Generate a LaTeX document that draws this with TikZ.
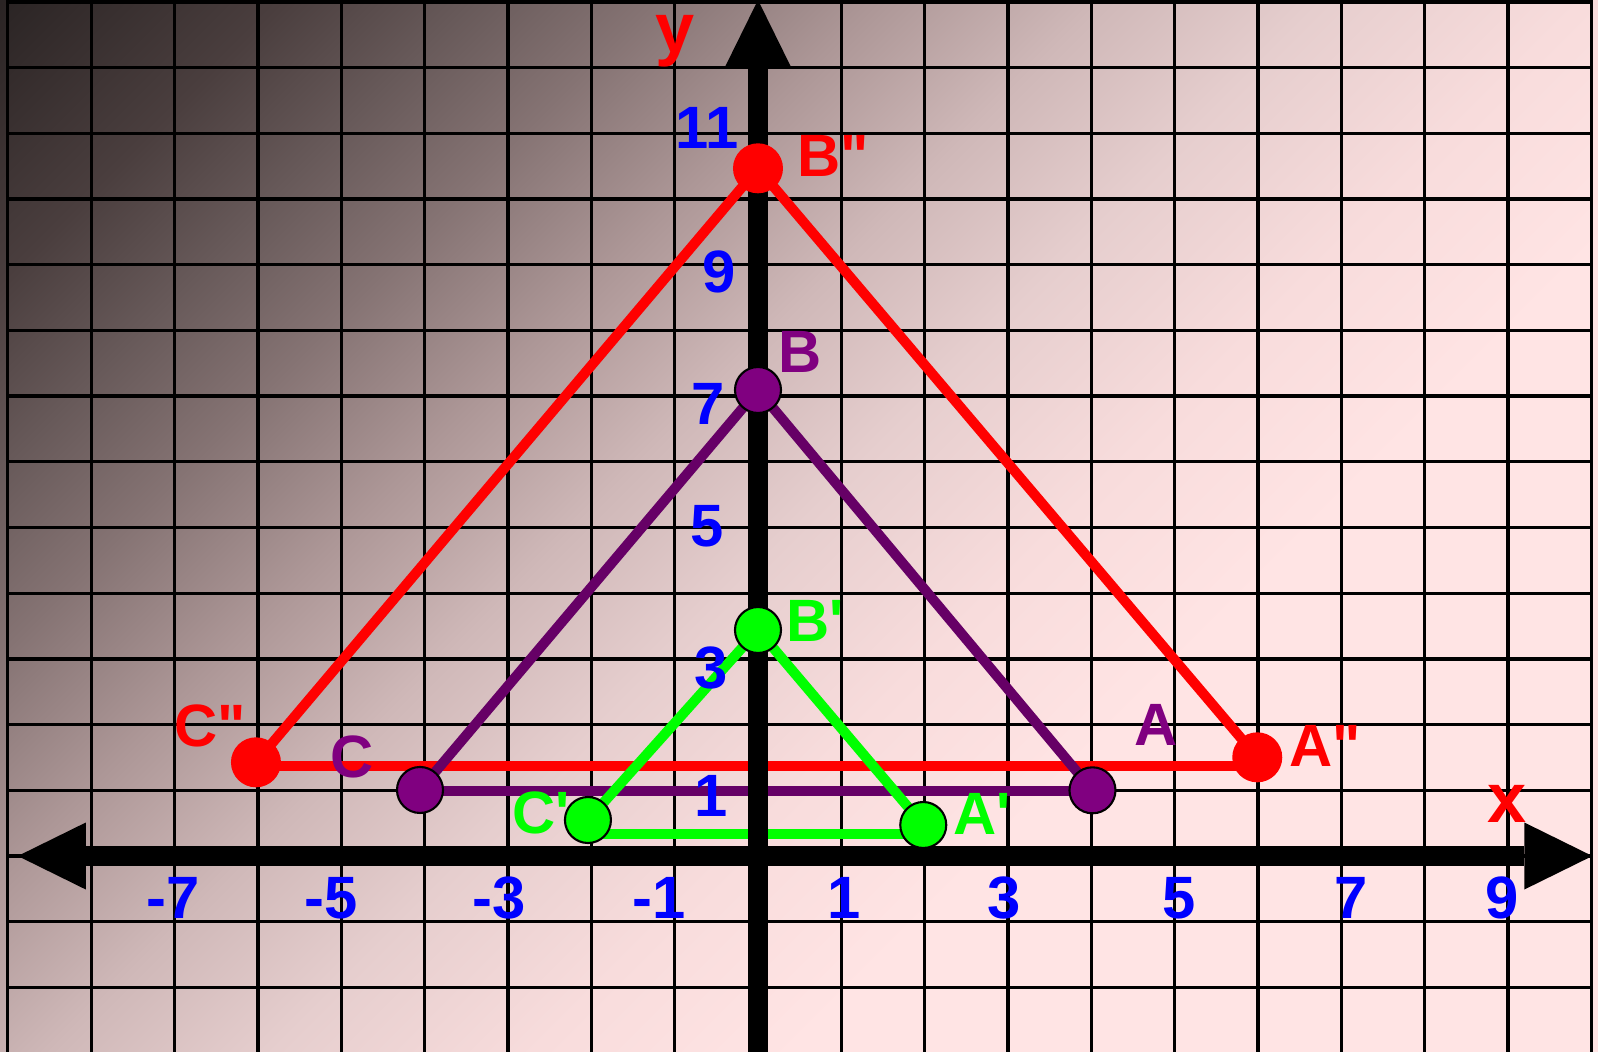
\documentclass[tikz,border=0pt]{standalone}
\usepackage{fontspec}
\setmainfont{Liberation Sans}
\usetikzlibrary{arrows.meta}
\definecolor{bgA}{HTML}{201B1B}
\definecolor{bgB}{HTML}{282222}
\definecolor{bgC}{HTML}{4A3E3E}
\definecolor{bgD}{HTML}{675959}
\definecolor{bgE}{HTML}{857373}
\definecolor{bgF}{HTML}{AD9797}
\definecolor{bgG}{HTML}{CFB8B8}
\definecolor{bgH}{HTML}{E6CECE}
\definecolor{bgI}{HTML}{F8DCDC}
\definecolor{bgJ}{HTML}{FFE4E4}
\definecolor{plum}{HTML}{800080}
\definecolor{plumline}{HTML}{660066}
\definecolor{lime}{HTML}{00FF00}
\pgfdeclarehorizontalshading{bgshade}{100bp}{color(0bp)=(bgA); color(14bp)=(bgB); color(22bp)=(bgC); color(27bp)=(bgD); color(32bp)=(bgE); color(38bp)=(bgF); color(44bp)=(bgG); color(50bp)=(bgH); color(57bp)=(bgI); color(64bp)=(bgJ); color(100bp)=(bgJ)}
\newcommand{\tri}[6]{%
  \draw[#1] (#2) -- (#3) -- (#4);
  \draw[#1] (#5) -- (#6);
}

\begin{document}
\begin{tikzpicture}[x=8.335mm,y=6.57mm,
  >={Triangle[length=6.8mm,width=6.7mm,line width=0pt]},
  gridline/.style={line width=0.95pt},
  axisline/.style={line width=5.7pt},
  edge/.style={line width=2.85pt},
  dot/.style={circle,inner sep=0pt,minimum size=4.6mm,draw=black,line width=0.6pt},
  reddot/.style={circle,inner sep=0pt,minimum size=5mm,fill=red},
  num/.style={blue,anchor=base,inner sep=0pt,font=\fontsize{17}{20}\selectfont\bfseries},
  lbl/.style={anchor=base,inner sep=0pt,font=\fontsize{17}{20}\selectfont\bfseries},
  axlbl/.style={red,anchor=base,inner sep=0pt,font=\fontsize{20}{24}\selectfont\bfseries}]
  \useasboundingbox (-9.094,-2.983) rectangle (10.078,13.029);
  \shade[shading=bgshade,shading angle=-45] (-9.094,-2.983) rectangle (10.078,13.029);
  \foreach \i in {-9,...,10}
    \draw[gridline] (\i,-2.983) -- (\i,13.029);
  \foreach \j in {-2,...,13}
    \draw[gridline] (-9,\j) -- (10,\j);

  \coordinate (xW) at (-8.88,0);
  \coordinate (xE) at (10.01,0);
  \coordinate (yS) at (0,-2.983);
  \coordinate (yN) at (0,13.029);

  \coordinate (B2) at (0,10.467);
  \coordinate (A2) at (5.99,1.502);
  \coordinate (C2) at (-6.023,1.426);
  \coordinate (B) at (0,7.093);
  \coordinate (A) at (4.013,1.0);
  \coordinate (C) at (-4.055,1.005);
  \coordinate (B1) at (0,3.44);
  \coordinate (A1) at (1.983,0.472);
  \coordinate (C1) at (-2.04,0.548);
  \coordinate (rl) at (-6.023,1.37);
  \coordinate (rr) at (5.99,1.37);
  \coordinate (pl) at (-4.055,0.99);
  \coordinate (pr) at (4.013,0.99);
  \coordinate (gl) at (-2.04,0.33);
  \coordinate (gr) at (1.983,0.33);

  \tri{edge,red}{C2}{B2}{A2}{rl}{rr}
  \tri{edge,plumline}{C}{B}{A}{pl}{pr}
  \tri{edge,lime}{C1}{B1}{A1}{gl}{gr}

  \draw[axisline,<->] (xW) -- (xE);
  \draw[axisline,->] (yS) -- (yN);

  \foreach \p in {B2,A2,C2}
    \node[reddot] (d\p) at (\p) {};
  \foreach \p in {B,A,C}
    \node[dot,fill=plum] (d\p) at (\p) {};
  \foreach \p in {B1,A1,C1}
    \node[dot,fill=lime] (d\p) at (\p) {};

  \foreach \px/\py/\t [count=\i] in {-0.606/10.761/11,-0.468/8.577/9,-0.594/6.575/7,-0.612/4.711/5,-0.564/2.557/3,-0.564/0.594/1}
    \node[num] (yn\i) at (\px,\py) {\t};
  \foreach \px/\t [count=\i] in {-7.018/-7,-5.117/-5,-3.107/-3,-1.188/-1,1.038/1,2.957/3,5.051/5,7.115/7,8.932/9}
    \node[num] (xn\i) at (\px,-0.944) {\t};

  \node[lbl,red] (lB2) at (0.900,10.335) {B\textquotedbl};
  \node[lbl,red] (lA2) at (6.809,1.359) {A\textquotedbl};
  \node[lbl,red] (lC2) at (-6.575,1.664) {C\textquotedbl};
  \node[lbl,plum] (lB) at (0.510,7.352) {B};
  \node[lbl,plum] (lA) at (4.775,1.689) {A};
  \node[lbl,plum] (lC) at (-4.865,1.192) {C};
  \node[lbl,lime] (lB1) at (0.684,3.262) {B\textquotesingle};
  \node[lbl,lime] (lA1) at (2.687,0.320) {A\textquotesingle};
  \node[lbl,lime] (lC1) at (-2.603,0.346) {C\textquotesingle};

  \node[axlbl] (xl) at (8.986,0.507) {x};
  \node[axlbl] (yl) at (-0.990,12.23) {y};
\end{tikzpicture}
\end{document}
